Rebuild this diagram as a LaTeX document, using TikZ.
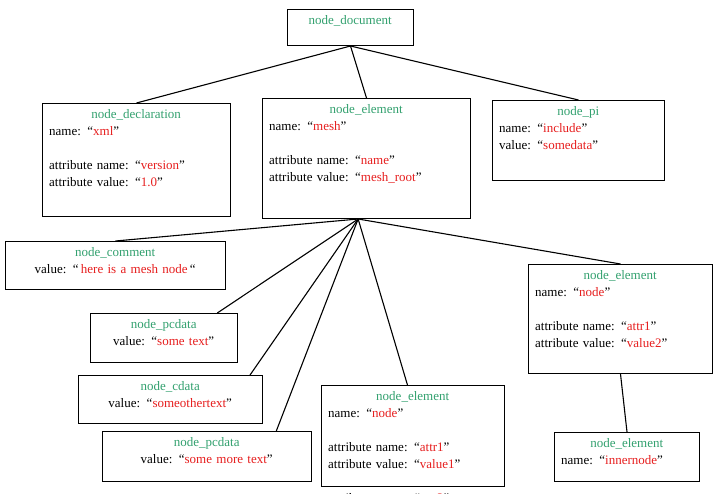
\documentclass[tikz,border=0pt]{standalone}
\usepackage{fontspec}
\setmainfont{Liberation Serif}
\usetikzlibrary{calc}
\definecolor{tg}{RGB}{50,160,110}
\definecolor{tr}{RGB}{230,30,30}
\newcommand{\ttl}[1]{\makebox[\linewidth]{\textcolor{tg}{#1}}\\}
\newcommand{\ctr}[1]{\makebox[\linewidth]{#1}}
\newcommand{\vq}[1]{``\textcolor{tr}{#1}''}
\newcommand{\bl}{\\\mbox{}\\}
\begin{document}
\begin{tikzpicture}[x=1pt,y=-1pt,
  box/.style={draw,line width=1pt,anchor=north west,inner sep=0pt},
  txt/.style={anchor=north west,inner sep=0pt,align=left,font=\fontsize{13}{17}\selectfont},
  edge/.style={line width=1.1pt}]
\useasboundingbox (0,0) rectangle (720,494);
\newcommand{\bx}[6]{%
  \node[box,minimum width=#4-#2,minimum height=#5-#3] (#1) at (#2,#3) {};
  \node[txt,text width=#4-#2-14] at (#2+7,#3+6) {#6};}
\bx{doc}{287}{9}{413}{45}{\ctr{\textcolor{tg}{node\_document}}}
\bx{decl}{42}{103}{230}{216}{\ttl{node\_declaration}name: \vq{xml}\bl attribute name: \vq{version}\\attribute value: \vq{1.0}}
\bx{root}{262}{98}{470}{218}{\ttl{node\_element}name: \vq{mesh}\bl attribute name: \vq{name}\\attribute value: \vq{mesh\_root}}
\bx{pi}{492}{100}{664}{180}{\ttl{node\_pi}name: \vq{include}\\value: \vq{somedata}}
\bx{com}{5}{241}{225}{289}{\ttl{node\_comment}\ctr{value: ``\,\textcolor{tr}{here is a mesh node}\,``}}
\bx{pc}{90}{313}{237}{362}{\ttl{node\_pcdata}\ctr{value: \vq{some text}}}
\bx{cd}{78}{375}{262}{423}{\ttl{node\_cdata}\ctr{value: \vq{someothertext}}}
\bx{pc2}{102}{431}{311}{481}{\ttl{node\_pcdata}\ctr{value: \vq{some more text}}}
\bx{mid}{321}{385}{504}{486}{\ttl{node\_element}name: \vq{node}\bl attribute name: \vq{attr1}\\attribute value: \vq{value1}\bl attribute name: \vq{attr2}\\attribute value: \vq{value2}}
\bx{rel}{528}{264}{712}{373}{\ttl{node\_element}name: \vq{node}\bl attribute name: \vq{attr1}\\attribute value: \vq{value2}}
\bx{inn}{554}{432}{699}{481}{\ttl{node\_element}name: \vq{innernode}}
\draw[edge] (doc.south) -- (decl.north);
\draw[edge] (doc.south) -- (root.north);
\draw[edge] (doc.south) -- (pi.north);
\coordinate (rb) at ($(root.south west)!0.46!(root.south east)$);
\draw[edge] (rb) -- (com.north);
\draw[edge] (rb) -- ($(pc.north west)!0.86!(pc.north east)$);
\draw[edge] (rb) -- ($(cd.north west)!0.93!(cd.north east)$);
\draw[edge] (rb) -- ($(pc2.north west)!0.83!(pc2.north east)$);
\draw[edge] (rb) -- ($(mid.north west)!0.47!(mid.north east)$);
\draw[edge] (rb) -- (rel.north);
\draw[edge] (rel.south) -- (inn.north);
\end{tikzpicture}
\end{document}
